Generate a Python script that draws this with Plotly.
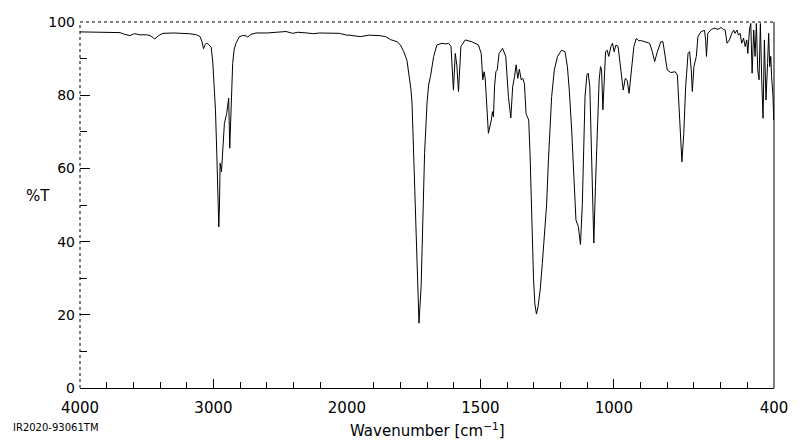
import plotly.graph_objects as go

# IR spectrum: wavenumber [cm-1] and transmittance [%T]
wavenumber = [
    4000, 3900, 3800, 3750, 3700, 3664, 3626, 3600, 3589, 3552, 3500, 3470, 3440, 3410,
    3380, 3300, 3230, 3180, 3126, 3100, 3085, 3075, 3062, 3054, 3040, 3017, 3005, 2993,
    2985, 2975, 2968, 2960, 2955, 2950, 2940, 2931, 2918, 2901, 2886, 2878, 2868, 2856,
    2845, 2831, 2806, 2780, 2755, 2743, 2720, 2680, 2600, 2506, 2456, 2406, 2369, 2300,
    2250, 2207, 2132, 2057, 2000,
    1992, 1949, 1918, 1880, 1855, 1837, 1812, 1800, 1787, 1775, 1768, 1760, 1756, 1750,
    1743, 1736, 1730, 1722, 1716, 1709, 1700, 1694, 1687, 1675, 1663, 1644, 1630, 1619,
    1610, 1601, 1594, 1588, 1582, 1573, 1557, 1532, 1507, 1497, 1491, 1486, 1482, 1476,
    1470, 1459, 1455, 1451, 1447, 1442, 1437, 1430, 1417, 1405, 1395, 1386, 1379, 1372,
    1366, 1360, 1354, 1347, 1341, 1335, 1329, 1324, 1319, 1314, 1308, 1301, 1296, 1290,
    1284, 1276, 1268, 1264, 1258, 1252, 1245, 1239, 1233, 1223, 1211, 1196, 1183, 1174,
    1167, 1158, 1149, 1142, 1133, 1125, 1118, 1114, 1108, 1101, 1096, 1090, 1085, 1081,
    1075, 1069, 1062, 1055, 1050, 1046, 1041, 1036, 1031, 1025, 1019, 1011, 1005, 999,
    992, 984, 974, 965, 957, 950, 943, 934, 925, 916, 907, 897, 884, 866, 856, 847, 837,
    824, 816, 807, 800, 787, 778, 770, 762, 756, 751, 745, 738, 731, 722, 716, 710, 706,
    700, 691, 685, 673, 660, 656, 653, 650, 648, 635, 623, 610, 598, 590, 583, 576, 567,
    558, 551, 546, 539, 533, 527, 521, 514, 508, 502, 498, 492, 487, 482, 476, 471, 466,
    461, 456, 451, 446, 441, 436, 430, 424, 420, 416, 412, 409, 404, 401, 400,
]
transmittance = [
    97.3, 97.3, 97.2, 97.3, 97.1, 96.6, 96.3, 96.7, 96.8, 96.5, 96.5, 96.2, 95.4, 96.3,
    96.9, 97.0, 96.9, 96.8, 96.5, 96.0, 94.5, 92.7, 93.8, 94.2, 94.0, 93.1, 89.0, 82.5,
    76.0, 64.0, 55.0, 44.0, 50.0, 61.4, 59.1, 65.9, 72.3, 75.0, 79.2, 65.5, 79.6, 88.7,
    92.5, 94.2, 96.0, 96.3, 96.2, 95.9, 96.6, 97.0, 97.0, 97.2, 97.4, 96.9, 97.2, 97.0,
    96.8, 97.0, 96.9, 96.9, 96.4,
    96.4, 96.0, 96.4, 96.3, 96.0, 95.2, 94.6, 93.8, 91.9, 89.5, 86.0, 81.5, 77.8, 64.1,
    45.9, 27.7, 17.7, 27.7, 45.9, 64.1, 77.8, 82.8, 85.1, 90.6, 93.7, 94.2, 94.0, 94.2,
    93.3, 81.4, 91.4, 88.0, 81.0, 93.3, 95.1, 94.6, 93.7, 91.4, 84.2, 86.4, 84.6, 76.0,
    69.6, 73.2, 75.5, 74.1, 82.3, 86.4, 86.9, 91.4, 92.8, 90.6, 79.6, 73.8, 82.3, 85.1,
    88.3, 84.6, 87.1, 84.2, 84.6, 83.2, 75.0, 74.1, 73.2, 64.1, 46.0, 30.0, 23.0, 20.2,
    22.2, 26.8, 34.0, 37.7, 45.0, 50.0, 62.3, 71.4, 79.6, 86.9, 90.6, 92.3, 91.9, 87.8,
    81.4, 70.5, 55.0, 45.9, 44.1, 39.2, 50.4, 65.9, 79.6, 85.5, 86.0, 82.3, 68.7, 55.0,
    39.6, 55.0, 71.4, 84.2, 87.8, 86.9, 76.0, 86.0, 91.9, 92.3, 90.6, 93.3, 94.2, 91.9,
    93.7, 93.3, 86.9, 81.4, 84.6, 84.0, 80.5, 86.9, 93.3, 95.5, 94.9, 94.9, 94.6, 94.2,
    91.9, 89.2, 91.9, 94.6, 94.6, 90.6, 86.9, 86.2, 86.4, 86.4, 85.5, 77.8, 68.7, 61.8,
    69.6, 82.3, 91.4, 91.9, 86.9, 81.0, 87.8, 90.6, 96.0, 97.4, 97.7, 95.0, 90.6, 95.0,
    96.9, 98.0, 98.3, 98.0, 98.5, 98.0, 97.8, 94.2, 95.1, 96.9, 97.8, 96.9, 97.8, 96.4,
    96.9, 94.2, 95.6, 93.3, 95.1, 91.4, 97.8, 99.6, 86.0, 97.8, 90.6, 99.6, 86.9, 84.2,
    99.6, 84.2, 73.7, 95.1, 78.7, 88.7, 96.9, 87.8, 90.6, 85.1, 80.0, 73.2, 74.0,
]

x_tick_high = [4000, 3000]
x_minor_high = [3800, 3600, 3400, 3200, 2800, 2600, 2400, 2200]
x_tick_low = [2000, 1500, 1000, 400]
x_minor_low = [1900, 1800, 1700, 1600, 1400, 1300, 1200, 1100, 900, 800, 700, 600, 500]
y_ticks = [0, 20, 40, 60, 80, 100]
y_minor = [10, 30, 50, 70, 90]

hi_w = [w for w in wavenumber if w >= 2000]
hi_t = [t for w, t in zip(wavenumber, transmittance) if w >= 2000]
lo_w = [w for w in wavenumber if w <= 2000]
lo_t = [t for w, t in zip(wavenumber, transmittance) if w <= 2000]

FONT = "DejaVu Sans"
line = dict(color="black", width=1)

fig = go.Figure()
fig.add_trace(go.Scatter(x=hi_w, y=hi_t, mode="lines", line=line, xaxis="x", yaxis="y",
                         showlegend=False, hoverinfo="skip"))
fig.add_trace(go.Scatter(x=lo_w, y=lo_t, mode="lines", line=line, xaxis="x2", yaxis="y",
                         showlegend=False, hoverinfo="skip"))

split = 1000 / 2600
common_x = dict(showline=True, linecolor="black", linewidth=1, ticks="inside", ticklen=9,
                tickwidth=1, tickcolor="black", showgrid=False, zeroline=False,
                ticklabelstandoff=6,
                tickfont=dict(family=FONT, size=15, color="black"), anchor="y")

fig.update_layout(
    width=800, height=441,
    margin=dict(l=80, r=24, t=22, b=53),
    paper_bgcolor="white", plot_bgcolor="white",
    xaxis=dict(domain=[0, split], range=[4000, 2000], tickmode="array",
               tickvals=x_tick_high, ticktext=[str(v) for v in x_tick_high],
               minor=dict(tickmode="array", tickvals=x_minor_high, ticks="inside",
                          ticklen=6, tickcolor="black", tickwidth=1),
               **common_x),
    xaxis2=dict(domain=[split, 1], range=[2000, 400], tickmode="array",
                tickvals=x_tick_low, ticktext=[str(v) for v in x_tick_low],
                minor=dict(tickmode="array", tickvals=x_minor_low, ticks="inside",
                           ticklen=6, tickcolor="black", tickwidth=1),
                **common_x),
    yaxis=dict(range=[0, 100], tickmode="array", tickvals=y_ticks,
               ticks="inside", ticklen=10, tickwidth=1, tickcolor="black",
               minor=dict(tickmode="array", tickvals=y_minor, ticks="inside",
                          ticklen=7, tickcolor="black", tickwidth=1),
               showline=False, showgrid=False, zeroline=False, anchor="x",
               ticklabelstandoff=4,
               tickfont=dict(family=FONT, size=14, color="black")),
    shapes=[
        dict(type="line", xref="paper", yref="paper", x0=0, x1=1, y0=1, y1=1,
             line=dict(color="black", width=1, dash="dot")),
        dict(type="line", xref="paper", yref="paper", x0=0, x1=0, y0=0, y1=1,
             line=dict(color="black", width=1, dash="dot")),
        dict(type="line", xref="paper", yref="paper", x0=1, x1=1, y0=0, y1=1,
             line=dict(color="black", width=1)),
    ],
    annotations=[
        dict(text="%T", xref="paper", yref="paper", x=-0.061, y=0.525, showarrow=False,
             xanchor="center", yanchor="middle",
             font=dict(family=FONT, size=15, color="black")),
        dict(text="Wavenumber [cm<sup>\u22121</sup>]", xref="paper", yref="paper", x=0.5,
             y=-0.115, showarrow=False, xanchor="center", yanchor="middle",
             font=dict(family=FONT, size=15, color="black")),
        dict(text="IR2020-93061TM", xref="paper", yref="paper", x=-0.100, y=-0.107,
             xanchor="left", yanchor="middle", showarrow=False,
             font=dict(family=FONT, size=10, color="black")),
    ],
)

fig.write_html("out.html")
